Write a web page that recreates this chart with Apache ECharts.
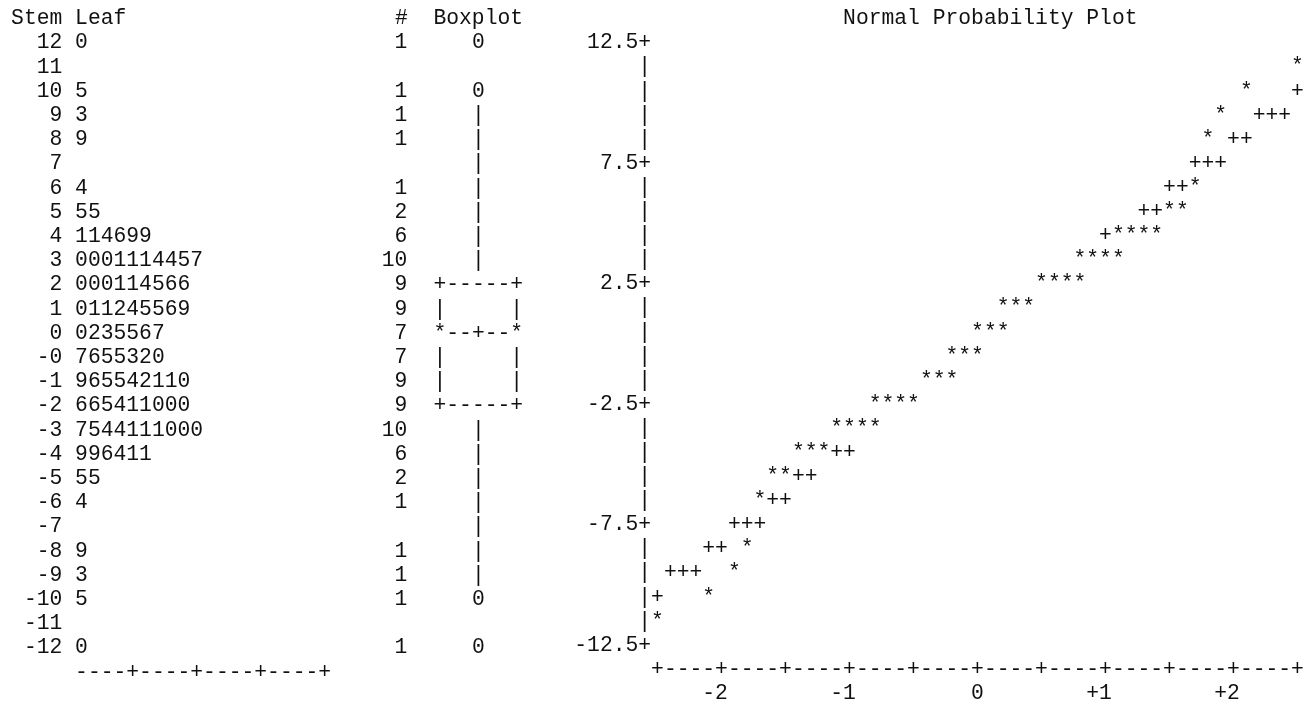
<!DOCTYPE html>
<html>
<head>
<meta charset="utf-8">
<script src="https://cdn.jsdelivr.net/npm/echarts@6/dist/echarts.min.js"></script>
<style>
html,body{margin:0;padding:0;background:#fff;}
#chart{width:1309px;height:704px;}
</style>
</head>
<body>
<div id="chart"></div>
<script>
// ---------------- data ----------------
const stems = ["12","11","10","9","8","7","6","5","4","3","2","1","0","-0","-1","-2","-3","-4","-5","-6","-7","-8","-9","-10","-11","-12"];
const leaves = ["0","","5","3","9","","4","55","114699","0001114457","000114566","011245569","0235567","7655320","965542110","665411000","7544111000","996411","55","4","","9","3","5","","0"];
const counts = [1,null,1,1,1,null,1,2,6,10,9,9,7,7,9,9,10,6,2,1,null,1,1,1,null,1];
const boxplotRows = ["0","","0","|","|","|","|","|","|","|","+-----+","|     |","*--+--*","|     |","|     |","+-----+","|","|","|","|","|","|","|","0","","0"];
const yTickLabels = ["12.5","7.5","2.5","-2.5","-7.5","-12.5"];
const zTickLabels = ["-2","-1","0","+1","+2"];
// normal probability plot: [normal quantile, value] for printed '*' cells
const normStars = [
  [2.5,11.5],
  [2.1,10.5],
  [1.9,9.5],
  [1.8,8.5],
  [1.7,6.5],
  [1.5,5.5],[1.6,5.5],
  [1.1,4.5],[1.2,4.5],[1.3,4.5],[1.4,4.5],
  [0.8,3.5],[0.9,3.5],[1.0,3.5],[1.1,3.5],
  [0.5,2.5],[0.6,2.5],[0.7,2.5],[0.8,2.5],
  [0.2,1.5],[0.3,1.5],[0.4,1.5],
  [0.0,0.5],[0.1,0.5],[0.2,0.5],
  [-0.2,-0.5],[-0.1,-0.5],[0.0,-0.5],
  [-0.4,-1.5],[-0.3,-1.5],[-0.2,-1.5],
  [-0.8,-2.5],[-0.7,-2.5],[-0.6,-2.5],[-0.5,-2.5],
  [-1.1,-3.5],[-1.0,-3.5],[-0.9,-3.5],[-0.8,-3.5],
  [-1.4,-4.5],[-1.3,-4.5],[-1.2,-4.5],
  [-1.6,-5.5],[-1.5,-5.5],
  [-1.7,-6.5],
  [-1.8,-8.5],
  [-1.9,-9.5],
  [-2.1,-10.5],
  [-2.5,-11.5]
];
// reference line cells '+'
const normRef = [
  [2.5,10.5],
  [2.2,9.5],[2.3,9.5],[2.4,9.5],
  [2.0,8.5],[2.1,8.5],
  [1.7,7.5],[1.8,7.5],[1.9,7.5],
  [1.5,6.5],[1.6,6.5],
  [1.3,5.5],[1.4,5.5],
  [1.0,4.5],
  [-1.1,-4.5],[-1.0,-4.5],
  [-1.4,-5.5],[-1.3,-5.5],
  [-1.6,-6.5],[-1.5,-6.5],
  [-1.9,-7.5],[-1.8,-7.5],[-1.7,-7.5],
  [-2.1,-8.5],[-2.0,-8.5],
  [-2.4,-9.5],[-2.3,-9.5],[-2.2,-9.5],
  [-2.5,-10.5]
];

// ---------------- layout (character cell grid) ----------------
const FONT = "'Liberation Mono', 'Courier New', monospace";
const FS = 21.33, CW = 12.8, LH = 24.2, X0 = 11.1, Y0 = 18.5;
const INK = '#111';
const colC = c => X0 + (c + 0.5) * CW;   // centre of text column c
const rowC = r => Y0 + r * LH;           // centre of text line r
const LEAF_OFF = 4;                      // leaf axis value v sits in column 4+v
const COUNT_COL = 30, BOX_COL = 36, AXIS_COL = 49, TITLE2_COL = 65;

const txt = {fontFamily: FONT, fontSize: FS, color: INK};
const isHalf = v => Math.abs(v * 2 - Math.round(v * 2)) < 1e-6;
const isInt = v => Math.abs(v - Math.round(v)) < 1e-6;

// series data built from the arrays
const leafData = [];
leaves.forEach((s, k) => { s.split('').forEach((d, j) => leafData.push([j + 1, k, d])); });
const countData = [];
counts.forEach((n, k) => { if (n != null) countData.push([COUNT_COL - LEAF_OFF + 0.5, k, String(n)]); });
const boxData = [];
boxplotRows.forEach((s, k) => { if (s) boxData.push([BOX_COL - LEAF_OFF, k, s]); });

const hidden = {show: false};
const textScatter = (name, data, xi, yi, labelOpt) => ({
  type: 'scatter', name, xAxisIndex: xi, yAxisIndex: yi, data,
  symbol: 'circle', symbolSize: 1, clip: false, silent: true,
  itemStyle: {color: 'rgba(255,255,255,0)', opacity: 1},
  label: Object.assign({show: true, position: 'inside', opacity: 1, textBorderWidth: 0,
    formatter: p => p.value[2]}, txt, labelOpt || {}),
  emphasis: {disabled: true}
});

const chart = echarts.init(document.getElementById('chart'), null, {renderer: 'canvas'});
const leftGridLeft = colC(LEAF_OFF), leftGridRight = colC(LEAF_OFF + 44);
const plotLeft = colC(AXIS_COL + 1), plotRight = colC(AXIS_COL + 51);

chart.setOption({
  animation: false,
  backgroundColor: '#ffffff',
  title: [
    {text: 'Stem Leaf                     #  Boxplot', left: X0, top: rowC(0) - LH / 2, padding: 0,
     textStyle: Object.assign({fontWeight: 'normal', lineHeight: LH}, txt)},
    {text: 'Normal Probability Plot', left: X0 + TITLE2_COL * CW, top: rowC(0) - LH / 2, padding: 0,
     textStyle: Object.assign({fontWeight: 'normal', lineHeight: LH}, txt)}
  ],
  grid: [
    {left: leftGridLeft, width: leftGridRight - leftGridLeft, top: rowC(1) - LH / 2, height: 26 * LH},
    {left: plotLeft, width: plotRight - plotLeft, top: rowC(1), height: 25 * LH}
  ],
  xAxis: [
    {gridIndex: 0, type: 'value', min: 0, max: 44, interval: 1,
     axisLine: hidden, axisTick: hidden, splitLine: hidden,
     axisLabel: Object.assign({margin: LH / 2, verticalAlign: 'middle', align: 'center',
       formatter: v => (v >= 1 && v <= 20 && isInt(v)) ? (Math.round(v) % 5 === 0 ? '+' : '-') : ''}, txt)},
    {gridIndex: 1, type: 'value', min: -2.5, max: 2.5, interval: 0.1, position: 'bottom',
     axisLine: hidden, axisTick: hidden, splitLine: hidden,
     axisLabel: Object.assign({margin: LH, verticalAlign: 'middle', align: 'center', showMinLabel: true, showMaxLabel: true,
       formatter: v => isHalf(v) ? '+' : '-'}, txt)},
    {gridIndex: 1, type: 'value', min: -2.5, max: 2.5, interval: 0.5, position: 'bottom',
     axisLine: hidden, axisTick: hidden, splitLine: hidden,
     axisLabel: Object.assign({margin: 2 * LH, verticalAlign: 'middle', align: 'center',
       formatter: v => {
         if (!isInt(v)) return '';
         const s = zTickLabels[Math.round(v) + 2];
         return s.length > 1 ? s + ' ' : s;
       }}, txt)}
  ],
  yAxis: [
    {gridIndex: 0, type: 'category', data: stems, inverse: true,
     axisLine: hidden, axisTick: hidden, splitLine: hidden,
     axisLabel: Object.assign({margin: CW / 2, align: 'right', interval: 0}, txt)},
    {gridIndex: 1, type: 'value', min: -12.5, max: 12.5, interval: 0.5,
     axisLine: hidden, axisTick: hidden, splitLine: hidden,
     axisLabel: Object.assign({margin: CW / 2, align: 'right', showMinLabel: true, showMaxLabel: true,
       formatter: v => {
         if (isInt(v)) return '';
         const i = yTickLabels.findIndex(t => Math.abs(parseFloat(t) - v) < 1e-6);
         return i >= 0 ? yTickLabels[i] + '+' : '|';
       }}, txt)}
  ],
  series: [
    textScatter('Leaf', leafData, 0, 0),
    textScatter('#', countData, 0, 0, {position: 'left', distance: 0}),
    textScatter('Boxplot', boxData, 0, 0),
    textScatter('Observed', normStars.map(p => [p[0], p[1], '*']), 1, 1),
    textScatter('Reference', normRef.map(p => [p[0], p[1], '+']), 1, 1)
  ]
});
</script>
</body>
</html>
